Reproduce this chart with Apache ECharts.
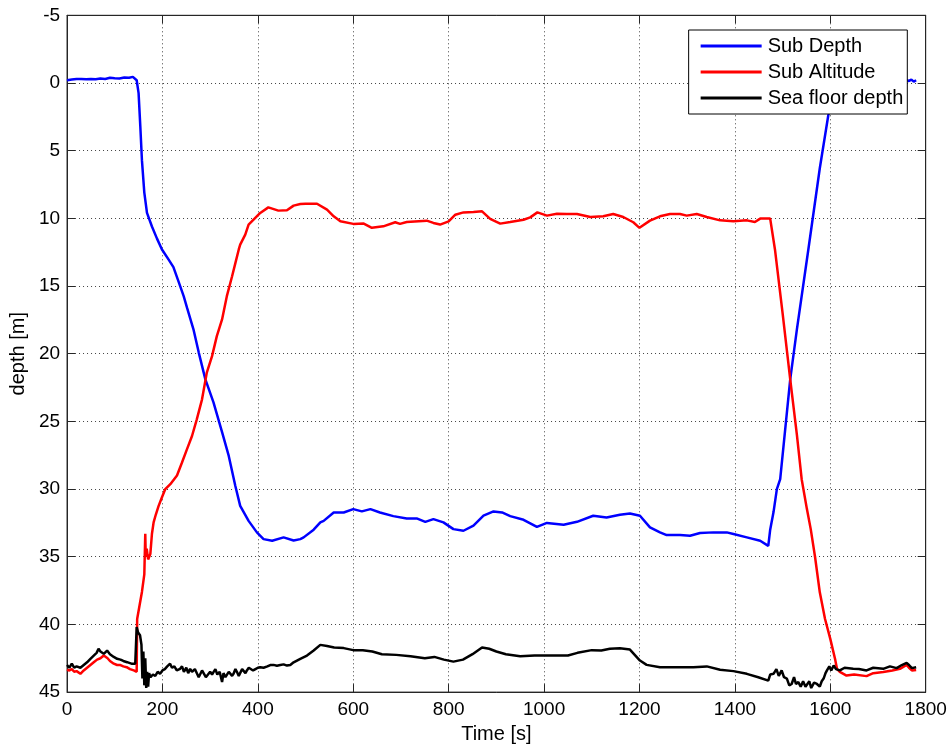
<!DOCTYPE html>
<html>
<head>
<meta charset="utf-8">
<title>Sub depth and altitude</title>
<script src="https://cdn.jsdelivr.net/npm/echarts@6/dist/echarts.min.js"></script>
<style>
  html, body { margin: 0; padding: 0; background: #fff; }
  #chart { width: 952px; height: 749px; }
</style>
</head>
<body>
<div id="chart"></div>
<script>
// Axis ticks
const xTicks = [0, 200, 400, 600, 800, 1000, 1200, 1400, 1600, 1800];
const yTicks = [-5, 0, 5, 10, 15, 20, 25, 30, 35, 40, 45];

// Sub Depth [m] over time [s]
const depthTime = [0, 10, 20, 30, 40, 50, 60, 70, 80, 90, 100, 110, 120, 130, 138, 142, 146, 150, 153.6, 157, 162, 167.6, 178, 188.6, 199, 213, 223, 234, 244.5, 251.5, 265, 276, 290, 307, 325, 339, 352.7, 363, 380.6, 398, 412, 430, 454, 475, 489, 496, 517, 531, 538, 559, 580, 600, 618, 636, 656, 684, 712, 733, 751, 768, 789, 810, 831, 852, 873, 894, 912, 929, 957, 985, 1006, 1041, 1069, 1103, 1131, 1159, 1180, 1201, 1222, 1243, 1257, 1285, 1306, 1327, 1355, 1383, 1397, 1425, 1453, 1470, 1474, 1481, 1488, 1495, 1516, 1530, 1554, 1578, 1596, 1606, 1612, 1640, 1680, 1720, 1760, 1765, 1770, 1775, 1780];
const depthValue = [-0.2, -0.25, -0.3, -0.3, -0.28, -0.3, -0.27, -0.33, -0.3, -0.38, -0.35, -0.33, -0.4, -0.38, -0.45, -0.5, -0.2, 0.75, 3.2, 5.7, 8.1, 9.6, 10.6, 11.5, 12.3, 13.05, 13.6, 14.7, 15.75, 16.6, 18.2, 19.9, 21.9, 23.6, 25.8, 27.55, 29.76, 31.24, 32.35, 33.2, 33.7, 33.82, 33.57, 33.8, 33.7, 33.57, 33.0, 32.46, 32.35, 31.73, 31.73, 31.48, 31.65, 31.48, 31.73, 32.0, 32.17, 32.17, 32.42, 32.22, 32.46, 32.96, 33.08, 32.7, 31.97, 31.65, 31.73, 32.0, 32.27, 32.8, 32.5, 32.64, 32.42, 31.97, 32.1, 31.9, 31.8, 31.97, 32.83, 33.2, 33.4, 33.4, 33.45, 33.25, 33.2, 33.2, 33.32, 33.57, 33.82, 34.2, 33.0, 31.7, 30.0, 29.27, 21.9, 18.2, 12.3, 6.3, 2.35, 0.0, -0.2, -0.2, -0.2, -0.2, -0.2, -0.15, -0.25, -0.1, -0.2];

// Sub Altitude [m] over time [s]
const altitudeTime = [0, 5, 10, 15, 20, 28, 35, 42, 49, 56, 63, 70, 77, 80, 85, 90, 98, 105, 112, 118, 125, 132, 140, 146, 147, 152, 157, 162, 164, 165, 167, 170, 174.6, 178, 181.5, 186, 192, 199, 206, 216.5, 230.5, 241, 251.5, 262, 272, 283, 293, 304, 314, 325, 335, 346, 353, 360, 363, 373.6, 380.6, 391, 405, 422, 443, 461, 475, 489, 500, 524, 545, 559, 573, 600, 622, 639, 663, 688, 698, 712, 754, 768, 782, 800, 814, 831, 852, 870, 887, 908, 929, 957, 971, 986, 1006, 1027, 1048, 1069, 1097, 1124, 1145, 1166, 1187, 1200, 1222, 1243, 1264, 1285, 1299, 1320, 1341, 1369, 1397, 1425, 1442, 1453, 1474, 1478, 1484, 1500, 1516, 1530, 1540, 1551, 1559, 1568, 1578, 1589, 1600, 1610, 1614, 1620, 1634, 1650, 1676, 1690, 1711, 1730, 1746, 1760, 1765, 1771, 1780];
const altitudeValue = [43.35, 43.4, 43.3, 43.5, 43.45, 43.65, 43.4, 43.2, 43.0, 42.8, 42.6, 42.5, 42.3, 42.35, 42.5, 42.7, 42.9, 43.0, 43.0, 43.1, 43.16, 43.3, 43.4, 43.5, 39.6, 38.6, 37.6, 36.3, 33.3, 35.0, 34.4, 35.2, 34.8, 33.3, 32.46, 31.9, 31.24, 30.6, 30.0, 29.64, 29.0, 28.04, 27.05, 26.08, 24.85, 23.37, 21.4, 20.18, 18.7, 17.47, 15.75, 14.28, 13.29, 12.3, 11.94, 11.2, 10.46, 10.1, 9.6, 9.19, 9.43, 9.41, 9.06, 8.94, 8.92, 8.92, 9.36, 9.85, 10.22, 10.41, 10.39, 10.7, 10.59, 10.29, 10.41, 10.27, 10.17, 10.34, 10.46, 10.22, 9.73, 9.56, 9.53, 9.48, 10.04, 10.39, 10.27, 10.1, 9.93, 9.56, 9.8, 9.66, 9.68, 9.68, 9.9, 9.85, 9.68, 9.9, 10.29, 10.7, 10.17, 9.85, 9.68, 9.68, 9.8, 9.68, 9.9, 10.15, 10.22, 10.15, 10.27, 10.02, 10.02, 10.1, 12.3, 17.0, 21.9, 26.0, 29.27, 31.48, 32.96, 35.0, 37.63, 39.6, 41.07, 42.55, 43.28, 43.5, 43.78, 43.7, 43.82, 43.6, 43.52, 43.4, 43.28, 42.99, 43.2, 43.4, 43.36];

// Sea floor depth [m] over time [s]
const floorTime = [0, 5, 10, 15, 20, 28, 35, 42, 49, 56, 62, 66, 70, 77, 84, 90, 98, 105, 112, 118, 126, 135, 143, 146, 149, 153, 156, 158, 160, 162, 164, 166, 168, 170, 172, 175, 180, 185, 190, 195, 200, 205, 210, 216, 220, 225, 230, 237, 241, 245, 250, 254, 258, 262, 265, 268, 272, 276, 279, 283, 287, 291, 295, 300, 304, 307, 311, 315, 320, 325, 328, 332, 335, 339, 342, 346, 349, 353, 356, 360, 363, 367, 370, 374, 377, 381, 385, 390, 395, 400, 405, 412, 420, 426, 433, 440, 447, 454, 461, 468, 475, 489, 503, 517, 531, 545, 560, 580, 600, 620, 640, 660, 690, 720, 750, 770, 790, 810, 830, 850, 870, 885, 900, 920, 950, 980, 1000, 1030, 1050, 1070, 1100, 1120, 1138, 1159, 1180, 1201, 1215, 1243, 1285, 1313, 1341, 1369, 1397, 1425, 1449, 1470, 1474, 1481, 1487, 1492, 1498, 1503, 1509, 1514, 1519, 1524, 1528, 1533, 1538, 1543, 1548, 1551, 1556, 1560, 1566, 1572, 1578, 1582, 1586, 1590, 1593, 1598, 1602, 1607, 1612, 1620, 1630, 1648, 1660, 1676, 1690, 1711, 1725, 1739, 1750, 1760, 1765, 1771, 1780];
const floorValue = [43.0, 43.2, 42.9, 43.2, 43.1, 43.2, 43.0, 42.8, 42.54, 42.3, 42.1, 41.8, 42.0, 42.17, 41.93, 42.2, 42.4, 42.54, 42.6, 42.7, 42.79, 42.9, 42.9, 40.2, 40.6, 40.8, 41.5, 44.0, 42.0, 44.5, 42.5, 44.7, 43.5, 44.6, 43.6, 43.9, 43.7, 43.8, 43.5, 43.65, 43.4, 43.3, 43.1, 42.9, 43.2, 43.1, 43.4, 43.28, 43.1, 43.5, 43.2, 43.6, 43.28, 43.5, 43.6, 43.3, 43.4, 43.9, 43.77, 43.4, 43.5, 43.9, 43.8, 43.5, 43.7, 43.52, 43.3, 43.7, 43.5, 44.26, 43.6, 43.9, 43.8, 43.5, 43.4, 43.8, 43.65, 43.3, 43.5, 43.8, 43.7, 43.3, 43.4, 43.6, 43.4, 43.2, 43.3, 43.4, 43.3, 43.2, 43.16, 43.2, 43.1, 43.0, 42.99, 43.05, 43.0, 42.95, 43.04, 43.0, 42.8, 42.54, 42.3, 41.93, 41.51, 41.6, 41.7, 41.75, 41.9, 41.9, 42.0, 42.2, 42.25, 42.35, 42.5, 42.4, 42.6, 42.75, 42.6, 42.2, 41.7, 41.8, 42.0, 42.2, 42.35, 42.3, 42.3, 42.3, 42.3, 42.1, 41.9, 41.93, 41.8, 41.76, 41.86, 42.67, 42.99, 43.16, 43.16, 43.16, 43.1, 43.35, 43.45, 43.65, 43.9, 44.15, 43.7, 43.65, 43.3, 43.8, 43.4, 43.9, 44.0, 44.5, 44.4, 43.9, 44.4, 44.26, 44.6, 44.2, 44.6, 44.5, 44.2, 44.7, 44.3, 44.4, 44.6, 44.2, 44.0, 43.6, 43.4, 43.1, 43.4, 43.04, 43.3, 43.4, 43.2, 43.28, 43.3, 43.4, 43.2, 43.28, 43.1, 43.23, 43.0, 42.84, 43.0, 43.23, 43.16];

const pairs = (ts, vs) => ts.map((t, i) => [t, vs[i]]);

const FONT = 'Liberation Sans, Arial, sans-serif';
const AXIS_COLOR = '#262626';
const gridDots = { type: [1, 3], color: '#444', width: 1 };
const plain = v => String(v);

const chart = echarts.init(document.getElementById('chart'), null, { renderer: 'canvas' });

const lineSeries = (name, color, data) => ({
  name,
  type: 'line',
  data,
  symbol: 'none',
  showSymbol: false,
  animation: false,
  lineStyle: { color, width: 2.5 },
  itemStyle: { color }
});

chart.setOption({
  animation: false,
  backgroundColor: '#fff',
  textStyle: { fontFamily: FONT },
  grid: {
    left: 66.7, top: 15.3, right: 26.3, bottom: 55.7,
    show: true, borderColor: AXIS_COLOR, borderWidth: 1, backgroundColor: '#fff'
  },
  legend: {
    orient: 'vertical',
    right: 952 - 907.3,
    top: 30,
    padding: [6, 4, 6, 12],
    itemGap: 6,
    itemWidth: 61,
    itemHeight: 20,
    icon: 'path://M0,0 L61,0 L61,3 L0,3 Z',
    symbolKeepAspect: true,
    backgroundColor: '#fff',
    borderColor: '#000',
    borderWidth: 1,
    borderRadius: 0,
    textStyle: { fontFamily: FONT, fontSize: 20, color: '#000', padding: [0, 0, 0, 1] },
    data: ['Sub Depth', 'Sub Altitude', 'Sea floor depth']
  },
  xAxis: [{
    type: 'value',
    min: xTicks[0],
    max: xTicks[xTicks.length - 1],
    interval: xTicks[1] - xTicks[0],
    name: 'Time [s]',
    nameLocation: 'middle',
    nameGap: 31,
    nameTextStyle: { fontFamily: FONT, fontSize: 20, color: '#000' },
    axisLine: { show: true, onZero: false, lineStyle: { color: AXIS_COLOR } },
    axisTick: { show: true, inside: true, length: 8, lineStyle: { color: AXIS_COLOR } },
    axisLabel: { fontFamily: FONT, fontSize: 19, color: '#000', margin: 8, formatter: plain },
    splitLine: { show: true, lineStyle: gridDots }
  }, {
    type: 'value',
    position: 'top',
    min: xTicks[0],
    max: xTicks[xTicks.length - 1],
    interval: xTicks[1] - xTicks[0],
    axisLine: { show: true, onZero: false, lineStyle: { color: AXIS_COLOR } },
    axisTick: { show: true, inside: true, length: 8, lineStyle: { color: AXIS_COLOR } },
    axisLabel: { show: false },
    splitLine: { show: false }
  }],
  yAxis: [{
    type: 'value',
    inverse: true,
    min: yTicks[0],
    max: yTicks[yTicks.length - 1],
    interval: yTicks[1] - yTicks[0],
    name: 'depth [m]',
    nameLocation: 'middle',
    nameGap: 37,
    nameRotate: 90,
    nameTextStyle: { fontFamily: FONT, fontSize: 20, color: '#000' },
    axisLine: { show: true, onZero: false, lineStyle: { color: AXIS_COLOR } },
    axisTick: { show: true, inside: true, length: 8, lineStyle: { color: AXIS_COLOR } },
    axisLabel: { fontFamily: FONT, fontSize: 19, color: '#000', margin: 7, formatter: plain },
    splitLine: { show: true, lineStyle: gridDots }
  }, {
    type: 'value',
    position: 'right',
    inverse: true,
    min: yTicks[0],
    max: yTicks[yTicks.length - 1],
    interval: yTicks[1] - yTicks[0],
    axisLine: { show: true, onZero: false, lineStyle: { color: AXIS_COLOR } },
    axisTick: { show: true, inside: true, length: 8, lineStyle: { color: AXIS_COLOR } },
    axisLabel: { show: false },
    splitLine: { show: false }
  }],
  series: [
    lineSeries('Sub Depth', '#0000ff', pairs(depthTime, depthValue)),
    lineSeries('Sub Altitude', '#ff0000', pairs(altitudeTime, altitudeValue)),
    lineSeries('Sea floor depth', '#000000', pairs(floorTime, floorValue))
  ]
});
</script>
</body>
</html>
